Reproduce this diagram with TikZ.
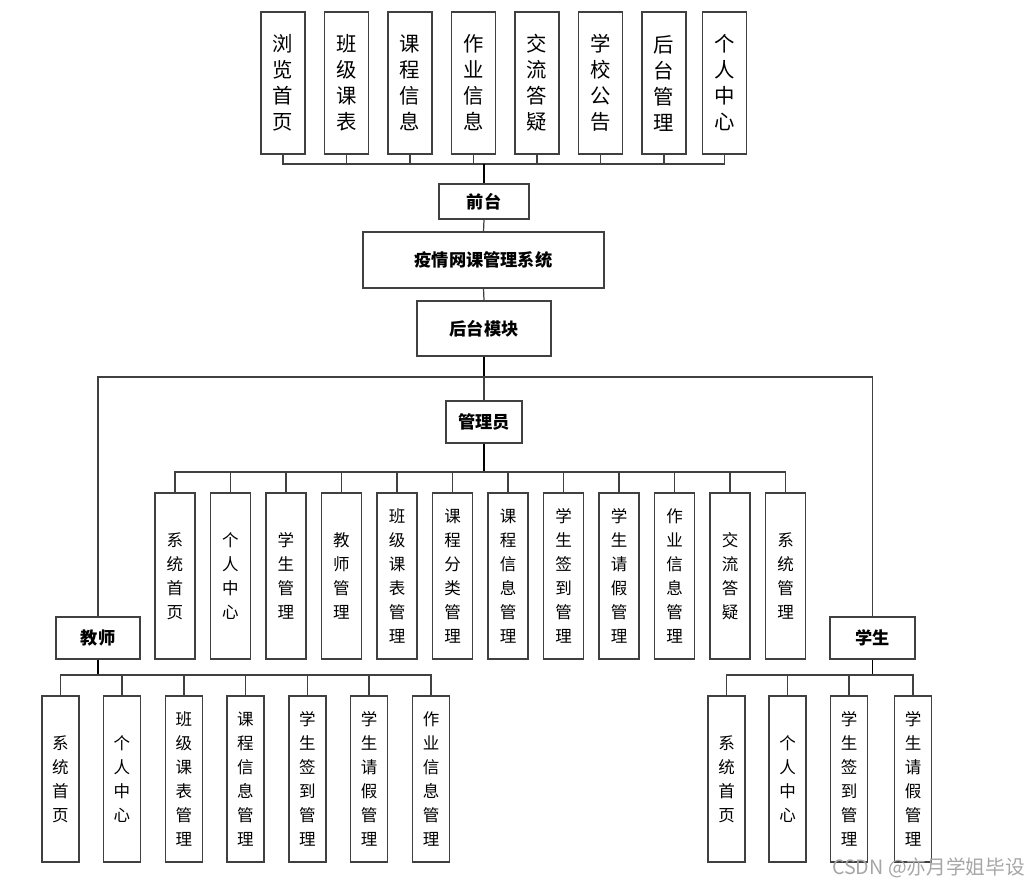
\documentclass[tikz,border=0pt]{standalone}
\usepackage{fontspec}
\setmainfont{Noto Sans CJK SC}
\usetikzlibrary{positioning,calc}

\tikzset{
  box/.style={draw=black!75, line width=0.8pt, fill=white, inner sep=0pt, align=center},
  topbox/.style={box, minimum width=0.88cm, minimum height=2.84cm, font=\fontsize{11.6}{14.8}\selectfont},
  headbox/.style={box, font=\fontsize{9.8}{12}\selectfont\bfseries},
  subbox/.style={box, minimum width=0.8cm, minimum height=3.32cm, font=\fontsize{9.4}{13.6}\selectfont},
  leafbox/.style={box, minimum width=0.74cm, minimum height=3.32cm, font=\fontsize{9.4}{13.6}\selectfont},
  link/.style={draw=black!75, line width=0.7pt},
  trunk/.style={draw=black, line width=1.1pt},
}

\begin{document}
\begin{tikzpicture}[x=0.02cm, y=-0.02cm]
\useasboundingbox (0,0) rectangle (1033,887);

% front end
\foreach \n/\x/\t in {1/283/{浏\\览\\首\\页}, 2/346.5/{班\\级\\课\\表}, 3/410/{课\\程\\信\\息},
    4/473.5/{作\\业\\信\\息}, 5/537/{交\\流\\答\\疑}, 6/600.5/{学\\校\\公\\告},
    7/664/{后\\台\\管\\理}, 8/724.5/{个\\人\\中\\心}}
  \node[topbox] (t\n) at (\x, 83) {\t};

\node[headbox, minimum width=1.8cm, minimum height=0.7cm] (qt) at (484, 201.5) {前台};
\node[headbox, minimum width=4.82cm, minimum height=1.12cm] (xt) at (483.5, 260) {疫情网课管理系统};
\node[headbox, minimum width=2.68cm, minimum height=1.1cm] (hm) at (484, 328.5) {后台模块};

\coordinate (topbus) at (484, 164);
\foreach \n in {1,...,8}
  \draw[link] (t\n.south) |- (topbus);
\draw[trunk] (topbus) -- (qt.north);
\draw[link] (qt.south) -- (xt.north);
\draw[link] (xt.south) -- (hm.north);

% back end roles
\node[headbox, minimum width=1.52cm, minimum height=0.84cm] (gly) at (484, 422) {管理员};
\node[headbox, minimum width=1.68cm, minimum height=0.84cm] (js) at (98, 638) {教师};
\node[headbox, minimum width=1.7cm, minimum height=0.84cm] (xs) at (872.5, 638) {学生};

\coordinate (split) at (484, 377);
\draw[trunk] (hm.south) -- (split);
\draw[link] (split) -- (gly.north);
\draw[link] (split) -| (js.north);
\draw[link] (split) -| (xs.north);

% admin
\foreach \n/\x/\t in {1/175/{系\\统\\首\\页}, 2/230.5/{个\\人\\中\\心}, 3/286/{学\\生\\管\\理},
    4/341.5/{教\\师\\管\\理}, 5/397/{班\\级\\课\\表\\管\\理}, 6/452.5/{课\\程\\分\\类\\管\\理},
    7/508/{课\\程\\信\\息\\管\\理}, 8/563.5/{学\\生\\签\\到\\管\\理}, 9/619/{学\\生\\请\\假\\管\\理},
    10/674.5/{作\\业\\信\\息\\管\\理}, 11/730/{交\\流\\答\\疑}, 12/785.5/{系\\统\\管\\理}}
  \node[subbox] (a\n) at (\x, 576) {\t};

\coordinate (admbus) at (484, 472);
\draw[trunk] (gly.south) -- (admbus);
\foreach \n in {1,...,12}
  \draw[link] (admbus) -| (a\n.north);

% teacher
\foreach \n/\x/\t in {1/60.5/{系\\统\\首\\页}, 2/122/{个\\人\\中\\心}, 3/184/{班\\级\\课\\表\\管\\理},
    4/245.5/{课\\程\\信\\息\\管\\理}, 5/307.5/{学\\生\\签\\到\\管\\理}, 6/369/{学\\生\\请\\假\\管\\理},
    7/431/{作\\业\\信\\息\\管\\理}}
  \node[leafbox] (j\n) at (\x, 779) {\t};

\coordinate (jsbus) at (98, 675);
\draw[trunk] (js.south) -- (jsbus);
\foreach \n in {1,...,7}
  \draw[link] (jsbus) -| (j\n.north);

% student
\foreach \n/\x/\t in {1/726.5/{系\\统\\首\\页}, 2/787.5/{个\\人\\中\\心},
    3/849/{学\\生\\签\\到\\管\\理}, 4/913/{学\\生\\请\\假\\管\\理}}
  \node[leafbox] (s\n) at (\x, 779) {\t};

\coordinate (xsbus) at (872.5, 675);
\draw[trunk] (xs.south) -- (xsbus);
\foreach \n in {1,...,4}
  \draw[link] (xsbus) -| (s\n.north);

\node[anchor=east, text=black!35, font=\fontsize{11.2}{12}\selectfont] (wm) at (1031, 868) {CSDN @亦月学姐毕设};

\end{tikzpicture}
\end{document}
